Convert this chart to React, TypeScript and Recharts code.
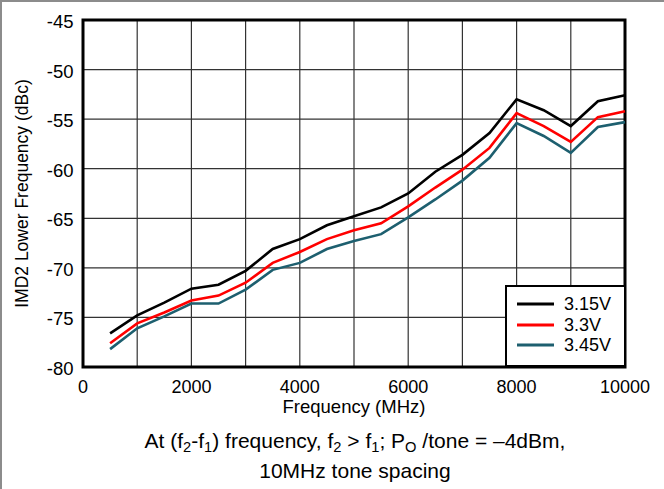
import {
  CartesianGrid,
  Legend,
  Line,
  LineChart,
  ReferenceArea,
  XAxis,
  YAxis,
} from 'recharts';

const freqMHz = [500, 1000, 1500, 2000, 2500, 3000, 3500, 4000, 4500, 5000, 5500, 6000, 6500, 7000, 7500, 8000, 8500, 9000, 9500, 10000];
const imd315 = [-76.6, -74.8, -73.5, -72.1, -71.7, -70.3, -68.1, -67.1, -65.7, -64.8, -63.9, -62.5, -60.3, -58.6, -56.4, -53.0, -54.1, -55.7, -53.2, -52.6];
const imd33 = [-77.6, -75.6, -74.5, -73.3, -72.8, -71.5, -69.5, -68.4, -67.1, -66.2, -65.5, -63.8, -61.9, -60.1, -57.9, -54.4, -55.7, -57.3, -54.8, -54.2];
const imd345 = [-78.2, -76.1, -74.9, -73.6, -73.6, -72.2, -70.2, -69.5, -68.1, -67.3, -66.6, -64.9, -63.1, -61.2, -58.9, -55.4, -56.7, -58.4, -55.8, -55.3];

const xTicks = [0, 1000, 2000, 3000, 4000, 5000, 6000, 7000, 8000, 9000, 10000];
const yTicks = [-80, -75, -70, -65, -60, -55, -50, -45];

const seriesNames = ['3.15V', '3.3V', '3.45V'];
const seriesColors = ['#000000', '#ff0000', '#1d5f6f'];

const chartData = freqMHz.map((f, i) => ({
  freq: f,
  v315: imd315[i],
  v33: imd33[i],
  v345: imd345[i],
}));

const subStyle = { fontSize: '0.7em', verticalAlign: '-0.3em', lineHeight: 0 };

function LegendBox({ payload }: any) {
  const items = Array.isArray(payload) ? payload : [];
  return (
    <div
      style={{
        boxSizing: 'border-box',
        width: 121,
        height: 82,
        border: '2px solid #000',
        background: '#fff',
        paddingTop: 7,
        paddingLeft: 10,
      }}
    >
      {items.map((item: any) => (
        <div key={item.value} style={{ display: 'flex', alignItems: 'center', height: 20.5 }}>
          <svg width={37} height={6} style={{ display: 'block' }}>
            <line x1={0} y1={3} x2={37} y2={3} stroke={item.color} strokeWidth={3} />
          </svg>
          <span style={{ marginLeft: 10, fontSize: 18, color: '#000', lineHeight: '20px' }}>{item.value}</span>
        </div>
      ))}
    </div>
  );
}

export default function App() {
  return (
    <div
      style={{
        position: 'absolute',
        left: 0,
        top: 0,
        width: 664,
        height: 489,
        background: '#fff',
        fontFamily: '"Liberation Sans", Arial, sans-serif',
        color: '#000',
        overflow: 'hidden',
      }}
    >
      <LineChart
        width={664}
        height={489}
        data={chartData}
        margin={{ top: 20, right: 39, bottom: 72, left: 0 }}
      >
        <CartesianGrid stroke="#333" strokeWidth={1.2} />
        <XAxis
          dataKey="freq"
          type="number"
          domain={[0, 10000]}
          ticks={xTicks}
          interval={0}
          tickFormatter={(v: number) => (v % 2000 === 0 ? String(v) : '')}
          tick={{ fill: '#000', fontSize: 18 }}
          tickLine={false}
          axisLine={false}
          tickSize={0}
          tickMargin={13}
          height={50}
          label={{ value: 'Frequency (MHz)', position: 'insideBottom', offset: 4, fill: '#000', fontSize: 18.5 }}
        />
        <YAxis
          type="number"
          domain={[-80, -45]}
          ticks={yTicks}
          interval={0}
          tick={{ fill: '#000', fontSize: 18.5, dy: 1.5 }}
          tickLine={false}
          axisLine={false}
          tickSize={0}
          tickMargin={9.5}
          width={83}
          label={{
            value: 'IMD2 Lower Frequency (dBc)',
            angle: -90,
            position: 'insideLeft',
            offset: 21.5,
            fill: '#000',
            fontSize: 17.5,
            style: { textAnchor: 'middle' },
          }}
        />
        <ReferenceArea x1={0} x2={10000} y1={-80} y2={-45} fill="none" stroke="#000" strokeWidth={3} />
        <Line type="linear" dataKey="v315" name={seriesNames[0]} stroke={seriesColors[0]} strokeWidth={2.6} dot={false} isAnimationActive={false} />
        <Line type="linear" dataKey="v33" name={seriesNames[1]} stroke={seriesColors[1]} strokeWidth={2.6} dot={false} isAnimationActive={false} />
        <Line type="linear" dataKey="v345" name={seriesNames[2]} stroke={seriesColors[2]} strokeWidth={2.6} dot={false} isAnimationActive={false} />
        <Legend
          layout="horizontal"
          verticalAlign="middle"
          align="center"
          content={<LegendBox />}
          wrapperStyle={{ left: 505, top: 285, width: 121, height: 82 }}
        />
      </LineChart>

      <div
        style={{
          position: 'absolute',
          left: 55,
          width: 600,
          top: 426,
          textAlign: 'center',
          fontSize: 21,
          lineHeight: '30px',
        }}
      >
        <div>
          At (f<sub style={subStyle}>2</sub>-f<sub style={subStyle}>1</sub>) frequency, f
          <sub style={subStyle}>2</sub> &gt; f<sub style={subStyle}>1</sub>; P
          <sub style={subStyle}>O</sub> /tone = –4dBm,
        </div>
        <div>10MHz tone spacing</div>
      </div>

      <div
        style={{
          position: 'absolute',
          left: 0,
          top: 0,
          width: 664,
          height: 489,
          boxSizing: 'border-box',
          borderLeft: '2px solid #8c8c8c',
          borderTop: '2px solid #8c8c8c',
          pointerEvents: 'none',
        }}
      />
    </div>
  );
}
